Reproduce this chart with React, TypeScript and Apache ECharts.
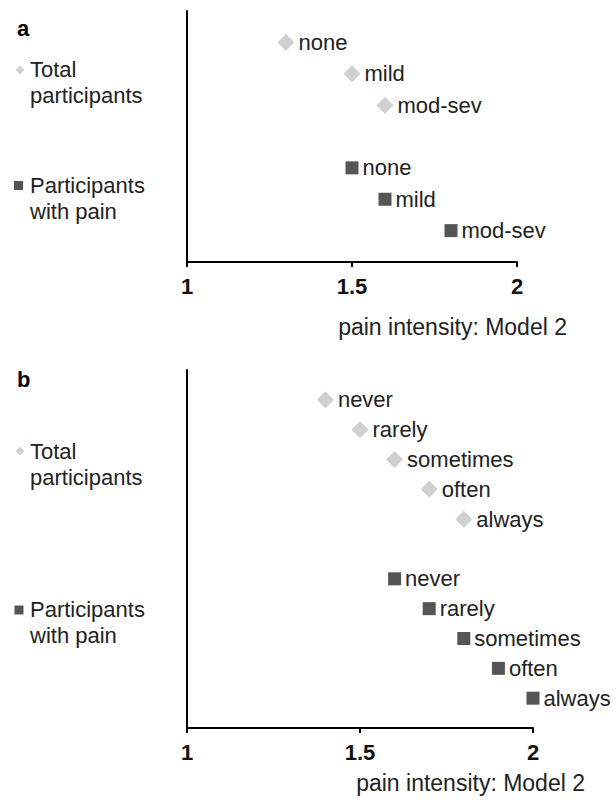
import React, { useEffect, useRef } from "react";
import * as echarts from "echarts";

// Panel a: pain intensity categories
const panelACategories = ["none", "mild", "mod-sev"];
const panelATotal = [1.3, 1.5, 1.6];
const panelAPain = [1.5, 1.6, 1.8];

// Panel b: frequency categories
const panelBCategories = ["never", "rarely", "sometimes", "often", "always"];
const panelBTotal = [1.4, 1.5, 1.6, 1.7, 1.8];
const panelBPain = [1.6, 1.7, 1.8, 1.9, 2.0];

const xMin = 1;
const xMax = 2;
const xInterval = 0.5;
const axisTitle = "pain intensity: Model 2";
const legendTotal = "Total\nparticipants";
const legendPain = "Participants\nwith pain";

const FONT = "'Liberation Sans', Arial, sans-serif";
const LIGHT = "#d0d0d0";
const DARK = "#555555";
const TEXT = "#222222";

function buildSeries(cats: string[], vals: number[], offset: number, rows: number, gridIndex: number, symbol: string, size: number, color: string, baseLine: boolean) {
  const s: any = {
    type: "scatter",
    xAxisIndex: gridIndex,
    yAxisIndex: gridIndex,
    symbol,
    symbolSize: size,
    itemStyle: { color, opacity: 1 },
    label: {
      show: true,
      position: "right",
      distance: 4,
      formatter: "{b}",
      color: TEXT,
      fontSize: 22,
      fontFamily: FONT,
    },
    data: cats.map((c, i) => ({ name: c, value: [vals[i], rows - (offset + i)] })),
  };
  if (baseLine) {
    s.markLine = {
      silent: true,
      symbol: "none",
      label: { show: false },
      lineStyle: { color: "#000000", width: 2, type: "solid", opacity: 1 },
      data: [{ yAxis: 0 }],
    };
  }
  return s;
}

export default function App() {
  const ref = useRef<HTMLDivElement>(null);
  useEffect(() => {
    if (!ref.current) return;
    const chart = echarts.init(ref.current, undefined, { renderer: "svg" });
    const nA = panelACategories.length;
    const nB = panelBCategories.length;
    const rowsA = 2 * nA + 2;
    const rowsB = 2 * nB + 2;
    const xAxisBase = (gi: number) => ({
      type: "value",
      gridIndex: gi,
      min: xMin,
      max: xMax,
      interval: xInterval,
      axisLine: { show: true, lineStyle: { color: "#000000", width: 2 } },
      axisTick: { show: true, length: 5, lineStyle: { color: "#000000", width: 2 } },
      axisLabel: { color: "#111111", fontSize: 22, fontWeight: "bold", margin: 13 },
      splitLine: { show: false },
    });
    const yAxisBase = (gi: number, max: number) => ({
      type: "value",
      gridIndex: gi,
      min: 0,
      max,
      axisLine: { show: true, lineStyle: { color: "#000000", width: 2 } },
      axisTick: { show: false },
      axisLabel: { show: false },
      splitLine: { show: false },
    });
    const legendText = (x: number, y: number, text: string) => ({
      type: "text",
      x,
      y,
      style: { text, fill: TEXT, fontSize: 22, fontFamily: FONT, lineHeight: 25.5, verticalAlign: "top", align: "left" },
    });
    const diamond = (cx: number, cy: number, r: number) => ({
      type: "polygon",
      shape: { points: [[cx, cy - r], [cx + r, cy], [cx, cy + r], [cx - r, cy]] },
      style: { fill: LIGHT },
    });
    const square = (cx: number, cy: number, s: number) => ({
      type: "rect",
      shape: { x: cx - s / 2, y: cy - s / 2, width: s, height: s },
      style: { fill: DARK },
    });
    chart.setOption({
      animation: false,
      textStyle: { fontFamily: FONT },
      grid: [
        { left: 187, right: 99, top: 11, height: 251 },
        { left: 187, right: 83, top: 370, height: 358 },
      ],
      xAxis: [xAxisBase(0), xAxisBase(1)],
      yAxis: [yAxisBase(0, rowsA), yAxisBase(1, rowsB)],
      series: [
        buildSeries(panelACategories, panelATotal, 1, rowsA, 0, "diamond", 17, LIGHT, false),
        buildSeries(panelACategories, panelAPain, nA + 2, rowsA, 0, "rect", 13, DARK, true),
        buildSeries(panelBCategories, panelBTotal, 1, rowsB, 1, "diamond", 17, LIGHT, false),
        buildSeries(panelBCategories, panelBPain, nB + 2, rowsB, 1, "rect", 13, DARK, true),
      ],
      graphic: [
        { type: "text", x: 17, y: 28, style: { text: "a", fill: "#000", fontSize: 22, fontWeight: "bold", fontFamily: FONT, verticalAlign: "middle" } },
        { type: "text", x: 17, y: 379, style: { text: "b", fill: "#000", fontSize: 22, fontWeight: "bold", fontFamily: FONT, verticalAlign: "middle" } },
        diamond(20, 70, 4.5),
        legendText(30, 57, legendTotal),
        square(18.5, 185.5, 9),
        legendText(30, 173, legendPain),
        diamond(20, 451, 4.5),
        legendText(30, 439, legendTotal),
        square(19, 610, 9),
        legendText(30, 597, legendPain),
        { type: "text", x: 567, y: 327, style: { text: axisTitle, fill: TEXT, fontSize: 23, fontFamily: FONT, align: "right", verticalAlign: "middle" } },
        { type: "text", x: 585, y: 783, style: { text: axisTitle, fill: TEXT, fontSize: 23, fontFamily: FONT, align: "right", verticalAlign: "middle" } },
      ],
    });
    return () => chart.dispose();
  }, []);
  return <div ref={ref} style={{ position: "absolute", left: 0, top: 0, width: 616, height: 800 }} />;
}
